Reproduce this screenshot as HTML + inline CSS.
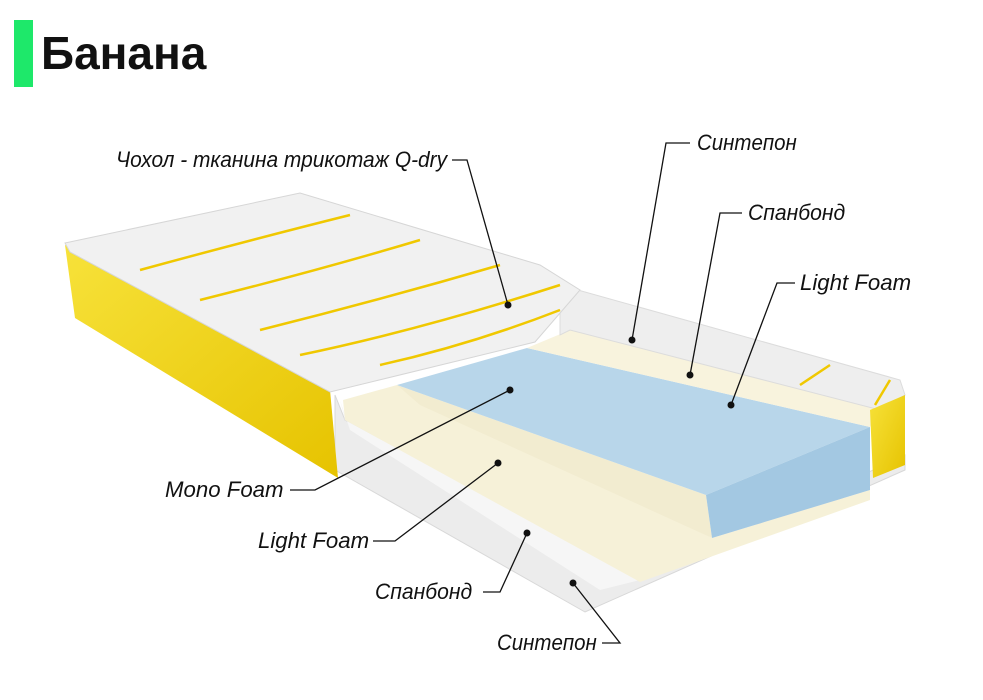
<!DOCTYPE html>
<html><head><meta charset="utf-8"><style>
body{margin:0;background:#fff;width:983px;height:700px;overflow:hidden;position:relative;font-family:"Liberation Sans",sans-serif}
.t{position:absolute;font-style:italic;font-size:22px;color:#111;white-space:nowrap;line-height:1;transform:scaleX(0.93);transform-origin:0 0}
.l{transform:scaleX(1.01)}
</style></head><body>
<div style="position:absolute;left:14px;top:20px;width:19px;height:67px;background:#1ee86a"></div>
<div style="position:absolute;left:41px;top:26px;font-size:46px;font-weight:bold;color:#111">Банана</div>
<svg width="983" height="700" style="position:absolute;left:0;top:0">
<defs>
<linearGradient id="y" x1="0" y1="0" x2="1" y2="1"><stop offset="0" stop-color="#f7e23a"/><stop offset="1" stop-color="#e6c300"/></linearGradient>
</defs>
<polygon points="335,395 335,470 585,612 905,470 905,455 640,580 345,420" fill="#ececec" stroke="#d8d8d8"/>
<polygon points="340,400 350,430 600,590 640,580 345,420" fill="#f6f6f6"/>
<polygon points="343,400 397,385 712,538 870,490 870,500 640,582 345,420" fill="#f6f1d8"/>
<polygon points="397,385 706,495 712,538 420,405" fill="#f2ecd0"/>
<polygon points="397,385 527,348 870,427 706,495" fill="#b8d6ea"/>
<polygon points="706,495 870,427 870,490 712,538" fill="#a3c8e2"/>
<polygon points="527,348 570,330 880,410 870,427" fill="#f8f3dd"/>
<polygon points="560,285 900,380 905,395 880,410 570,330 560,335" fill="#eeeeee" stroke="#dcdcdc"/>
<polygon points="870,410 905,395 905,465 873,478" fill="url(#y)"/>
<polygon points="65,245 330,390 338,478 75,318" fill="url(#y)"/>
<polygon points="65,243 300,193 540,265 580,290 535,342 330,392 70,252" fill="#f1f1f1" stroke="#d6d6d6"/>
<g stroke="#f0c800" stroke-width="2.5" fill="none">
<path d="M140,270 Q250,240 350,215"/><path d="M200,300 Q320,270 420,240"/>
<path d="M260,330 Q380,300 500,265"/><path d="M300,355 Q420,330 560,285"/>
<path d="M380,365 Q470,345 560,310"/><path d="M800,385 L830,365"/><path d="M875,405 L890,380"/>
</g>
<g stroke="#111" stroke-width="1.3" fill="none">
<path d="M452,160 H467 L508,305"/><path d="M690,143 H666 L632,340"/>
<path d="M742,213 H720 L690,375"/><path d="M795,283 H777 L731,405"/>
<path d="M290,490 H315 L510,390"/><path d="M373,541 H395 L498,463"/>
<path d="M483,592 H500 L527,533"/><path d="M602,643 H620 L573,583"/>
</g>
<g fill="#111">
<circle cx="508" cy="305" r="3.5"/><circle cx="632" cy="340" r="3.5"/><circle cx="690" cy="375" r="3.5"/><circle cx="731" cy="405" r="3.5"/>
<circle cx="510" cy="390" r="3.5"/><circle cx="498" cy="463" r="3.5"/><circle cx="527" cy="533" r="3.5"/><circle cx="573" cy="583" r="3.5"/>
</g>
</svg>
<div class="t" style="left:116px;top:149px;transform:scaleX(0.95)">Чохол - тканина трикотаж Q-dry</div>
<div class="t" style="left:697px;top:132px">Синтепон</div>
<div class="t" style="left:748px;top:202px;transform:scaleX(0.96)">Спанбонд</div>
<div class="t l" style="left:800px;top:272px">Light Foam</div>
<div class="t l" style="left:165px;top:479px">Mono Foam</div>
<div class="t l" style="left:258px;top:530px">Light Foam</div>
<div class="t" style="left:375px;top:581px;transform:scaleX(0.96)">Спанбонд</div>
<div class="t" style="left:497px;top:632px">Синтепон</div>
</body></html>
